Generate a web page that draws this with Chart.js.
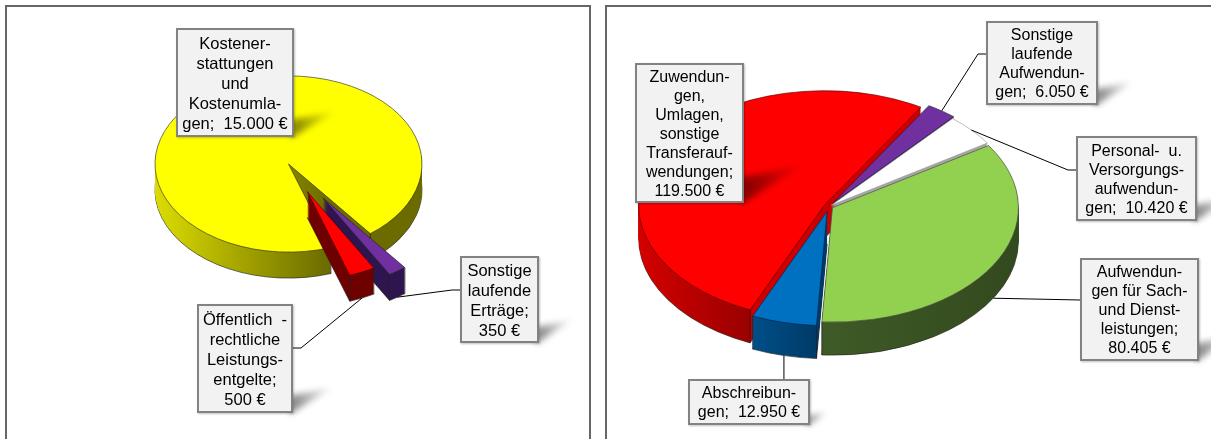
<!DOCTYPE html>
<html>
<head>
<meta charset="utf-8">
<script src="https://cdn.jsdelivr.net/npm/chart.js@4"></script>
<style>
  html, body { margin: 0; padding: 0; background: #fff; overflow: hidden; }
  body { width: 1211px; height: 439px; position: relative; font-family: "Liberation Sans", Arial, sans-serif; }
  canvas { position: absolute; top: 0; }
  .frame { position: absolute; top: 5px; height: 460px; box-sizing: border-box; border: 2px solid #666; }
  .box {
    position: absolute; box-sizing: border-box; background: #f2f2f2; border: 2px solid #828282;
    color: #000; text-align: center; white-space: pre; display: flex; align-items: center; justify-content: center;
    box-shadow: 1px 1px 2px rgba(0,0,0,.25);
  }
  .shadow { position: absolute; filter: blur(3px); }
  .shadow div {
    width: 100%; height: 100%;
    background: linear-gradient(90deg, rgba(0,0,0,.5), rgba(0,0,0,.22) 60%, rgba(0,0,0,.05));
    clip-path: polygon(0 30%, 100% 0, 100% 6%, 0 100%);
  }
</style>
</head>
<body>
<div class="frame" style="left:5px;width:586px"></div>
<div class="frame" style="left:605px;width:640px"></div>
<canvas id="incomeChart" width="600" height="439" style="left:0"></canvas>
<canvas id="expenseChart" width="611" height="439" style="left:600px"></canvas>
<script>
// income pie
const incomeCategories = ["Kostenerstattungen und Kostenumlagen", "Sonstige laufende Erträge", "Öffentlich - rechtliche Leistungsentgelte"];
const incomeValues = [15000, 350, 500];
const incomeColors = ["#ffff00", "#7030a0", "#ff0000"];
const incomeLabelText = [
  "Kostener-\nstattungen\nund\nKostenumla-\ngen;  15.000 €",
  "Sonstige\nlaufende\nErträge;\n350 €",
  "Öffentlich  -\nrechtliche\nLeistungs-\nentgelte;\n500 €"
];

// expense pie
const expenseCategories = ["Zuwendungen, Umlagen, sonstige Transferaufwendungen", "Sonstige laufende Aufwendungen", "Personal- u. Versorgungsaufwendungen", "Aufwendungen für Sach- und Dienstleistungen", "Abschreibungen"];
const expenseValues = [119500, 6050, 10420, 80405, 12950];
const expenseColors = ["#ff0000", "#7030a0", "#ffffff", "#92d050", "#0070c0"];
const expenseLabelText = [
  "Zuwendun-\ngen,\nUmlagen,\nsonstige\nTransferauf-\nwendungen;\n119.500 €",
  "Sonstige\nlaufende\nAufwendun-\ngen;  6.050 €",
  "Personal-  u.\nVersorgungs-\naufwendun-\ngen;  10.420 €",
  "Aufwendun-\ngen für Sach-\nund Dienst-\nleistungen;\n80.405 €",
  "Abschreibun-\ngen;  12.950 €"
];

// squashes the pie, pushes slices out and adds the side walls + leader lines
function pie3d(cfg) {
  function place(ctx, arc, i, d) {
    const mid = (arc.startAngle + arc.endAngle) / 2;
    ctx.translate(0, d);
    ctx.translate(arc.x, arc.y);
    ctx.scale(1, cfg.squash);
    ctx.translate(-arc.x, -arc.y);
    ctx.translate(Math.cos(mid) * cfg.explode[i], Math.sin(mid) * cfg.explode[i]);
  }
  function path(ctx, arc) {
    ctx.beginPath();
    ctx.moveTo(arc.x, arc.y);
    ctx.arc(arc.x, arc.y, arc.outerRadius, arc.startAngle, arc.endAngle);
    ctx.closePath();
  }
  // w = [from colour, to colour, from x, to x, colour past the end], x as a fraction of the radius
  function wallFill(ctx, arc, w) {
    const r = arc.outerRadius;
    const g = ctx.createLinearGradient(arc.x + w[2] * r, 0, arc.x + r, 0);
    const stop = (w[3] - w[2]) / (1 - w[2]);
    const after = w[4] || w[1];
    g.addColorStop(0, w[0]);
    g.addColorStop(stop, w[1]);
    g.addColorStop(Math.min(stop + 0.005, 1), after);
    g.addColorStop(1, after);
    return g;
  }
  return {
    id: "pie3d",
    beforeDatasetDraw(chart) {
      const ctx = chart.ctx;
      chart.getDatasetMeta(0).data.forEach(function (arc, i) {
        const r = arc.outerRadius;
        for (let d = cfg.depth; d >= 1; d--) {
          ctx.save();
          place(ctx, arc, i, d);
          path(ctx, arc);
          ctx.fillStyle = wallFill(ctx, arc, cfg.walls[i]);
          ctx.fill();
          if (d == cfg.depth) {
            ctx.strokeStyle = "#222";
            ctx.lineWidth = 0.8;
            ctx.stroke();
          }
          ctx.restore();
        }
        // vertical edges of the cuts at the front
        [arc.startAngle, arc.endAngle].forEach(function (a) {
          if (Math.sin(a) < 0) return;
          const mid = (arc.startAngle + arc.endAngle) / 2;
          const px = arc.x + Math.cos(mid) * cfg.explode[i] + Math.cos(a) * r;
          const py = arc.y + (Math.sin(mid) * cfg.explode[i] + Math.sin(a) * r) * cfg.squash;
          ctx.strokeStyle = "#222";
          ctx.lineWidth = 0.8;
          ctx.beginPath();
          ctx.moveTo(px, py);
          ctx.lineTo(px, py + cfg.depth);
          ctx.stroke();
        });
        ctx.save();
        place(ctx, arc, i, 0);
        arc.draw(ctx);
        ctx.restore();
      });
      return false;
    },
    afterDraw(chart) {
      const ctx = chart.ctx;
      ctx.save();
      ctx.strokeStyle = "#000";
      ctx.lineWidth = 1;
      chart.getDatasetMeta(0).data.forEach(function (arc, i) {
        const b = cfg.boxes[i];
        if (!b.side) return;
        const mid = (arc.startAngle + arc.endAngle) / 2;
        const rim = arc.outerRadius + cfg.explode[i];
        const ax = arc.x + Math.cos(mid) * rim;
        const ay = arc.y + Math.sin(mid) * rim * cfg.squash + (Math.sin(mid) > 0 ? cfg.depth : 0);
        const ox = cfg.originX;
        ctx.beginPath();
        ctx.moveTo(ax, ay);
        if (b.side == "left") {
          ctx.lineTo(b.x - ox - b.stub, b.edge);
          ctx.lineTo(b.x - ox, b.edge);
        } else if (b.side == "right") {
          ctx.lineTo(b.x + b.w - ox + b.stub, b.edge);
          ctx.lineTo(b.x + b.w - ox, b.edge);
        } else {
          ctx.lineTo(ax, b.y);
        }
        ctx.stroke();
      });
      ctx.restore();
    }
  };
}

function makePie(id, labels, values, colors, radius, rotation, padding, cfg) {
  new Chart(document.getElementById(id).getContext("2d"), {
    type: "pie",
    data: {
      labels: labels,
      datasets: [{
        data: values,
        backgroundColor: colors,
        borderColor: cfg.borders,
        borderWidth: 0.8,
        radius: radius
      }]
    },
    options: {
      responsive: false,
      animation: false,
      rotation: rotation,
      layout: { padding: padding },
      plugins: { legend: { display: false }, tooltip: { enabled: false } },
      events: []
    },
    plugins: [pie3d(cfg)]
  });
}

function addLabels(texts, boxes, fontSize, lineHeight) {
  texts.forEach(function (t, i) {
    const b = boxes[i];
    const s = document.createElement("div");
    s.className = "shadow";
    s.style.cssText = "left:" + (b.x + b.w - 3) + "px;top:" + (b.y + b.h - b.sh + 1) + "px;width:" + b.sw + "px;height:" + b.sh + "px";
    s.appendChild(document.createElement("div"));
    document.body.appendChild(s);
    const d = document.createElement("div");
    d.className = "box";
    d.style.cssText = "left:" + b.x + "px;top:" + b.y + "px;width:" + b.w + "px;height:" + b.h + "px;font-size:" + fontSize + "px;line-height:" + lineHeight + "px";
    d.textContent = t;
    document.body.appendChild(d);
  });
}

const incomeBoxes = [
  { x: 176, y: 28, w: 118, h: 109, sw: 42, sh: 26 },
  { x: 460, y: 256, w: 79, h: 87, sw: 34, sh: 24, side: "left", edge: 290, stub: 8 },
  { x: 197, y: 304, w: 96, h: 109, sw: 40, sh: 26, side: "right", edge: 348, stub: 8 }
];
const expenseBoxes = [
  { x: 635, y: 63, w: 109, h: 140, sw: 58, sh: 38 },
  { x: 986, y: 21, w: 112, h: 84, sw: 36, sh: 24, side: "left", edge: 54, stub: 8 },
  { x: 1076, y: 136, w: 121, h: 85, sw: 36, sh: 24, side: "left", edge: 170, stub: 8 },
  { x: 1080, y: 258, w: 119, h: 103, sw: 36, sh: 26, side: "left", edge: 300, stub: 0 },
  { x: 688, y: 379, w: 122, h: 46, sw: 20, sh: 14, side: "top" }
];

makePie("incomeChart", incomeCategories, incomeValues, incomeColors, 133.5, 161.5,
  { top: 0, left: 0, right: 23, bottom: 111 },
  {
    squash: 0.66, depth: 26, explode: [0, 62, 46], originX: 0, boxes: incomeBoxes,
    borders: ["#333", "#222", "#400"],
    walls: [["#dcdc00", "#6b6b00", -1, 0.3], ["#2e1550", "#2e1550", -1, 1], ["#6e0000", "#6e0000", -1, 1]]
  });

makePie("expenseChart", expenseCategories, expenseValues, expenseColors, 186, -156.4,
  { top: 0, left: 0, right: 153, bottom: 26 },
  {
    squash: 0.615, depth: 33, explode: [5, 6, 3, 4, 8], originX: 600, boxes: expenseBoxes,
    borders: ["#500", "#222", "#999", "#444", "#024"],
    walls: [["#d40000", "#9a0000", -1, -0.4, "#cc0000"], ["#2e1550", "#2e1550", -1, 1], ["#a6a6a6", "#a6a6a6", -1, 1], ["#3e5a26", "#33491e", 0, 1], ["#00508a", "#003a68", -0.42, -0.05]]
  });

addLabels(incomeLabelText, incomeBoxes, 16.5, 20);
addLabels(expenseLabelText, expenseBoxes, 16, 19);
</script>
</body>
</html>
